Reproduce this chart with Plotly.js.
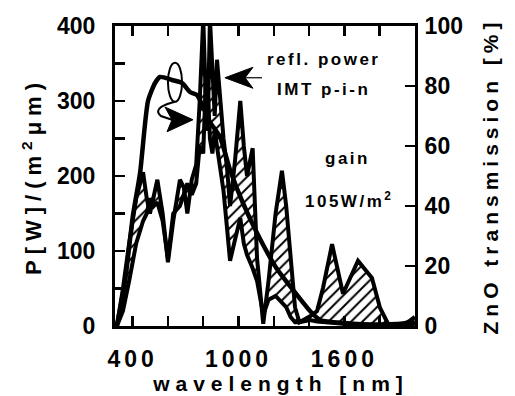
<!DOCTYPE html>
<html><head><meta charset="utf-8">
<script src="https://cdn.plot.ly/plotly-3.0.1.min.js"></script>
<style>
body{margin:0;background:#fff}
#chart{width:515px;height:396px}
.xtitle{letter-spacing:6px;transform:translate(16px,0)}
.ytitle{letter-spacing:6px}
.y2title{letter-spacing:5px}
.xtick text{letter-spacing:4px}
.annotation-text{letter-spacing:2.5px}
</style></head>
<body><div id="chart"></div>
<script>
// wavelength grid [nm]
const wavelength = [311,345,380,420,459,480,498,520,540,570,600,630,668,690,710,735,760,780,800,815,825,838,852,865,878,895,915,935,952,980,1010,1030,1048,1080,1105,1140,1170,1210,1246,1270,1295,1320,1345,1405,1445,1479,1530,1592,1677,1756,1802,1847,1900,1960,2000];
// reflected power [W/(m2 um)]
const reflPower = [0,50,110,170,205,170,150,175,195,150,85,140,195,185,150,195,215,300,410,300,260,410,330,280,355,300,250,210,160,220,300,240,200,237,90,3,60,150,207,160,90,25,5,13,20,51,109,43,87,64,24,3,0,2,6];
// IMT p-i-n [W/(m2 um)]
const imtPin = [0,20,60,110,140,150,170,160,165,140,90,150,160,175,190,175,190,240,230,330,320,250,230,260,240,210,180,130,87,115,144,110,95,77,60,15,35,40,32,25,12,5,5,8,6,5,4,3,2,2,2,1,0,1,3];
// ZnO transmission [%]
const znoWavelength = [310,357,402,442,487,527,555,623,680,725,765,799,838,895,952,1025,1122,1218,1309,1405,1462,1600,1800,1950,2000];
const znoTransmission = [0,15,37,51,75,81,83,82,81,78,77,73,68,63,52,41,29,19,12,5,2,1,0.5,1,3];

const xTicks = [400,1000,1600];
const yTicks = [0,100,200,300,400];
const y2Ticks = [0,20,40,60,80,100];

const F = 'Liberation Sans, Arial, sans-serif';
const tickFont = {family:F, size:23, weight:'bold', color:'#000'};
const annFont = {family:F, size:17, weight:'bold', color:'#000'};

const traces = [
  {x:wavelength, y:imtPin, type:'scatter', mode:'lines', line:{color:'#000', width:4}, hoverinfo:'skip'},
  {x:wavelength, y:reflPower, type:'scatter', mode:'lines', line:{color:'#000', width:4},
   fill:'tonexty', fillcolor:'rgba(0,0,0,0)',
   fillpattern:{shape:'/', size:8, solidity:0.25, fgcolor:'#000', bgcolor:'rgba(255,255,255,0)'}, hoverinfo:'skip'},
  {x:znoWavelength, y:znoTransmission, yaxis:'y2', type:'scatter', mode:'lines', line:{color:'#000', width:4.5, shape:'spline', smoothing:0.6}, hoverinfo:'skip'}
];

const axCommon = {showline:true, linewidth:3, linecolor:'#000', ticks:'inside', ticklen:10, tickwidth:2.5, tickcolor:'#000', showgrid:false, zeroline:false, tickfont:tickFont};

const layout = {
  width:515, height:396,
  margin:{l:115, r:100, t:26, b:70},
  paper_bgcolor:'#fff', plot_bgcolor:'#fff',
  showlegend:false,
  xaxis:Object.assign({}, axCommon, {range:[300,2000], tickvals:xTicks, mirror:'ticks', ticklabelstandoff:10,
    minor:{tickvals:[400,600,800,1000,1200,1400,1600,1800], ticks:'inside', ticklen:10, tickwidth:2.5, tickcolor:'#000'},
    title:{text:'wavelength [nm]', font:{family:F, size:21, weight:'bold', color:'#000'}, standoff:4}}),
  yaxis:Object.assign({}, axCommon, {range:[0,400], tickvals:yTicks, ticklabelstandoff:12,
    minor:{tickvals:[50,150,250,350], ticks:'inside', ticklen:10, tickwidth:2.5, tickcolor:'#000'},
    title:{text:'P[W]/(m<sup>2</sup>μm)', font:{family:F, size:22, weight:'bold', color:'#000'}, standoff:10}}),
  yaxis2:Object.assign({}, axCommon, {range:[0,100], tickvals:y2Ticks, overlaying:'y', side:'right', ticklabelstandoff:2,
    title:{text:'ZnO transmission [%]', font:{family:F, size:21, weight:'bold', color:'#000'}, standoff:22}}),
  annotations:[
    {x:1484, y:355, xref:'x', yref:'y', text:'refl. power', showarrow:false, font:annFont},
    {x:1479, y:315, xref:'x', yref:'y', text:'IMT p-i-n', showarrow:false, font:annFont},
    {x:1620, y:224, xref:'x', yref:'y', text:'gain', showarrow:false, font:annFont},
    {x:1626, y:168, xref:'x', yref:'y', text:'105W/m<sup>2</sup>', showarrow:false, font:annFont}
  ],
  shapes:[
    // ellipse marking the transmission curve
    {type:'circle', xref:'x', yref:'y', x0:600, x1:680, y0:299, y1:351, line:{color:'#000', width:2}},
    // curled arrow pointing to the right-hand axis curve
    {type:'path', xref:'x', yref:'y', path:'M 640,299 C 590,296 510,290 560,280 L 623,275', line:{color:'#000', width:2}},
    {type:'path', xref:'x', yref:'y', path:'M 742,275 L 583,292 L 623,275 L 595,259 Z', fillcolor:'#000', line:{color:'#000', width:1}},
    // arrow to refl. power / IMT curves
    {type:'path', xref:'x', yref:'y', path:'M 1037,331 L 1133,331', line:{color:'#000', width:1.2}},
    {type:'path', xref:'x', yref:'y', path:'M 923,331 L 1082,345 L 1037,331 L 1082,317 Z', fillcolor:'#000', line:{color:'#000', width:1}}
  ]
};

Plotly.newPlot('chart', traces, layout, {staticPlot:true, displayModeBar:false});
</script>
</body></html>
